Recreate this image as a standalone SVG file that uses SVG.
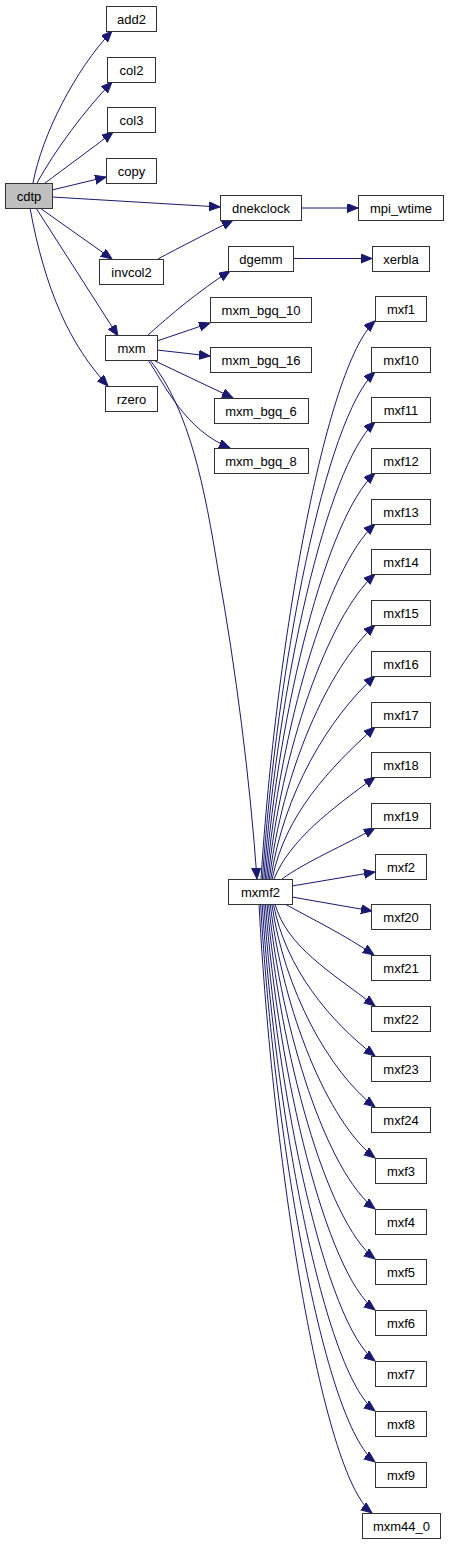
<svg xmlns="http://www.w3.org/2000/svg" width="449" height="1544" viewBox="0 0 449 1544">
<style>
.n rect{fill:#fff;stroke:#333;stroke-width:1}
.n.g rect{fill:#bfbfbf}
.n text{font-family:"Liberation Sans",Arial,sans-serif;font-size:13px;text-anchor:middle;fill:#000}
#edges path{fill:none;stroke:#191970;stroke-width:1;marker-end:url(#ah)}
</style>
<defs>
<marker id="ah" markerUnits="userSpaceOnUse" markerWidth="13" markerHeight="10" refX="11" refY="4.5" orient="auto">
<path d="M0,0 L11,4.5 L0,9 z" fill="#191970" stroke="#191970" stroke-width="1"/>
</marker>
</defs>
<rect width="449" height="1544" fill="#fff"/>
<g id="edges">
<path d="M33,183 C42,135 75,70 112,31"/>
<path d="M37,183 C55,150 85,110 112,82"/>
<path d="M45,183 C65,168 90,150 113,132"/>
<path d="M52,190 L106,177"/>
<path d="M52,197 L220,207"/>
<path d="M40,208 L112,259"/>
<path d="M36,208 L118,336"/>
<path d="M30,208 C45,290 70,345 108,386"/>
<path d="M158,259 C180,247 210,232 233,220"/>
<path d="M301,208 L358,208"/>
<path d="M293,258.5 L372,258.5"/>
<path d="M147,336 C170,315 200,290 230,271"/>
<path d="M157,341 L210,323"/>
<path d="M157,350 L210,356"/>
<path d="M153,360 L233,398"/>
<path d="M148,360 C165,385 185,430 230,448"/>
<path d="M150,360 C190,410 205,490 218,570 C236,670 250,780 257,879"/>
<path d="M261,879 C276,644.6 325,367.2 375,321"/>
<path d="M262.4,879 C277,666.1 325.5,417.6 375,372"/>
<path d="M263.8,879 C278,687.1 326,467 375,422"/>
<path d="M265.2,879 C279,708.5 326.5,517.5 375,473"/>
<path d="M266.6,879 C280,729.9 327,567.9 375,524"/>
<path d="M268,879 C281,750.9 327.5,617.4 375,574"/>
<path d="M269.4,879 C282.1,772.3 328,667.8 375,625"/>
<path d="M270.8,879 C283.3,793.7 328.5,718.2 375,676"/>
<path d="M272.2,879 C285,815.2 329,768.7 375,727"/>
<path d="M274,879 C290,840 330,810 375,777"/>
<path d="M282,879 C305,862 345,845 375,828"/>
<path d="M292,886 L375,872"/>
<path d="M292,897 L372,911"/>
<path d="M285,904 C310,918 345,935 374,955"/>
<path d="M275,904 C287,946.8 330,971.4 375,1006"/>
<path d="M273.4,904 C285.6,967.8 329.3,1020.8 375,1056"/>
<path d="M271.8,904 C284.2,989.3 328.6,1071.3 375,1107"/>
<path d="M270.2,904 C282.8,1010.7 327.8,1121.7 375,1158"/>
<path d="M268.6,904 C281.4,1032.1 327.1,1172.1 375,1209"/>
<path d="M267,904 C280,1053.1 326.4,1221.6 375,1259"/>
<path d="M265.4,904 C278.6,1074.5 325.7,1272 375,1310"/>
<path d="M263.8,904 C277.1,1095.9 325,1322.5 375,1361"/>
<path d="M262.2,904 C275.7,1116.9 324.2,1371.9 375,1411"/>
<path d="M260.6,904 C274.3,1138.4 323.5,1422.3 375,1462"/>
<path d="M259,904 C272.6,1159.8 321.1,1473.8 372,1513"/>
</g>
<g id="cdtp" class="n g"><rect x="5.5" y="183.5" width="47" height="25"/><text x="29" y="200.5">cdtp</text></g>
<g id="add2" class="n"><rect x="106.5" y="6.5" width="50" height="25"/><text x="131.5" y="23.5">add2</text></g>
<g id="col2" class="n"><rect x="107.5" y="57.5" width="48" height="25"/><text x="131.5" y="74.5">col2</text></g>
<g id="col3" class="n"><rect x="107.5" y="107.5" width="48" height="25"/><text x="131.5" y="124.5">col3</text></g>
<g id="copy" class="n"><rect x="106.5" y="158.5" width="50" height="25"/><text x="131.5" y="175.5">copy</text></g>
<g id="invcol2" class="n"><rect x="99.5" y="259.5" width="64" height="25"/><text x="131.5" y="276.5">invcol2</text></g>
<g id="mxm" class="n"><rect x="105.5" y="335.5" width="52" height="25"/><text x="131.5" y="352.5">mxm</text></g>
<g id="rzero" class="n"><rect x="105.5" y="386.5" width="52" height="25"/><text x="131.5" y="403.5">rzero</text></g>
<g id="dnekclock" class="n"><rect x="220.5" y="195.5" width="81" height="25"/><text x="261" y="212.5">dnekclock</text></g>
<g id="mpi_wtime" class="n"><rect x="358.5" y="195.5" width="85" height="25"/><text x="401" y="212.5">mpi_wtime</text></g>
<g id="dgemm" class="n"><rect x="228.5" y="246.5" width="65" height="25"/><text x="261" y="263.5">dgemm</text></g>
<g id="xerbla" class="n"><rect x="372.5" y="246.5" width="57" height="25"/><text x="401" y="263.5">xerbla</text></g>
<g id="mxm_bgq_10" class="n"><rect x="210.5" y="297.5" width="101" height="25"/><text x="261" y="314.5">mxm_bgq_10</text></g>
<g id="mxm_bgq_16" class="n"><rect x="210.5" y="347.5" width="101" height="25"/><text x="261" y="364.5">mxm_bgq_16</text></g>
<g id="mxm_bgq_6" class="n"><rect x="214.5" y="398.5" width="94" height="25"/><text x="261" y="415.5">mxm_bgq_6</text></g>
<g id="mxm_bgq_8" class="n"><rect x="214.5" y="448.5" width="94" height="25"/><text x="261" y="465.5">mxm_bgq_8</text></g>
<g id="mxmf2" class="n"><rect x="228.5" y="879.5" width="64" height="25"/><text x="260.5" y="896.5">mxmf2</text></g>
<g id="mxf1" class="n"><rect x="375.5" y="296.5" width="51" height="25"/><text x="401" y="313.5">mxf1</text></g>
<g id="mxf10" class="n"><rect x="371.5" y="347.5" width="59" height="25"/><text x="401" y="364.5">mxf10</text></g>
<g id="mxf11" class="n"><rect x="371.5" y="397.5" width="59" height="25"/><text x="401" y="414.5">mxf11</text></g>
<g id="mxf12" class="n"><rect x="371.5" y="448.5" width="59" height="25"/><text x="401" y="465.5">mxf12</text></g>
<g id="mxf13" class="n"><rect x="371.5" y="499.5" width="59" height="25"/><text x="401" y="516.5">mxf13</text></g>
<g id="mxf14" class="n"><rect x="371.5" y="549.5" width="59" height="25"/><text x="401" y="566.5">mxf14</text></g>
<g id="mxf15" class="n"><rect x="371.5" y="600.5" width="59" height="25"/><text x="401" y="617.5">mxf15</text></g>
<g id="mxf16" class="n"><rect x="371.5" y="651.5" width="59" height="25"/><text x="401" y="668.5">mxf16</text></g>
<g id="mxf17" class="n"><rect x="371.5" y="702.5" width="59" height="25"/><text x="401" y="719.5">mxf17</text></g>
<g id="mxf18" class="n"><rect x="371.5" y="752.5" width="59" height="25"/><text x="401" y="769.5">mxf18</text></g>
<g id="mxf19" class="n"><rect x="371.5" y="803.5" width="59" height="25"/><text x="401" y="820.5">mxf19</text></g>
<g id="mxf2" class="n"><rect x="375.5" y="854.5" width="51" height="25"/><text x="401" y="871.5">mxf2</text></g>
<g id="mxf20" class="n"><rect x="371.5" y="904.5" width="59" height="25"/><text x="401" y="921.5">mxf20</text></g>
<g id="mxf21" class="n"><rect x="371.5" y="955.5" width="59" height="25"/><text x="401" y="972.5">mxf21</text></g>
<g id="mxf22" class="n"><rect x="371.5" y="1006.5" width="59" height="25"/><text x="401" y="1023.5">mxf22</text></g>
<g id="mxf23" class="n"><rect x="371.5" y="1056.5" width="59" height="25"/><text x="401" y="1073.5">mxf23</text></g>
<g id="mxf24" class="n"><rect x="371.5" y="1107.5" width="59" height="25"/><text x="401" y="1124.5">mxf24</text></g>
<g id="mxf3" class="n"><rect x="375.5" y="1158.5" width="51" height="25"/><text x="401" y="1175.5">mxf3</text></g>
<g id="mxf4" class="n"><rect x="375.5" y="1209.5" width="51" height="25"/><text x="401" y="1226.5">mxf4</text></g>
<g id="mxf5" class="n"><rect x="375.5" y="1259.5" width="51" height="25"/><text x="401" y="1276.5">mxf5</text></g>
<g id="mxf6" class="n"><rect x="375.5" y="1310.5" width="51" height="25"/><text x="401" y="1327.5">mxf6</text></g>
<g id="mxf7" class="n"><rect x="375.5" y="1361.5" width="51" height="25"/><text x="401" y="1378.5">mxf7</text></g>
<g id="mxf8" class="n"><rect x="375.5" y="1411.5" width="51" height="25"/><text x="401" y="1428.5">mxf8</text></g>
<g id="mxf9" class="n"><rect x="375.5" y="1462.5" width="51" height="25"/><text x="401" y="1479.5">mxf9</text></g>
<g id="mxm44_0" class="n"><rect x="362.5" y="1513.5" width="78" height="25"/><text x="401.5" y="1530.5">mxm44_0</text></g>
</svg>
